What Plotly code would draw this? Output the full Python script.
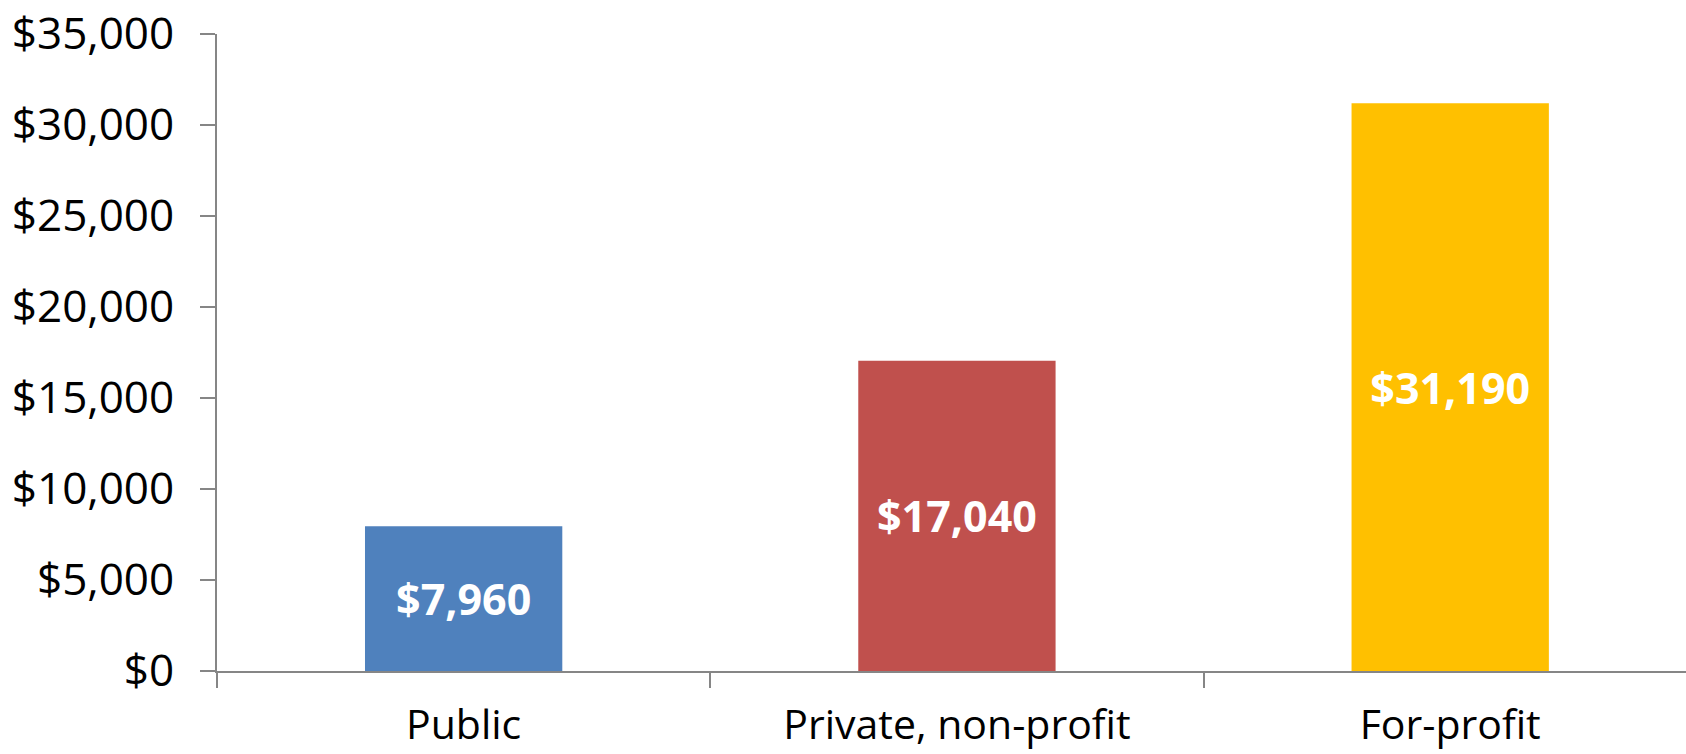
import plotly.graph_objects as go

categories = ["Public", "Private, non-profit", "For-profit"]
values = [7960, 17040, 31190]
labels = ["$7,960", "$17,040", "$31,190"]
colors = ["#4F81BD", "#C0504D", "#FFC000"]
y_ticks = [0, 5000, 10000, 15000, 20000, 25000, 30000, 35000]
y_tick_text = ["$" + f"{v:,}" for v in y_ticks]

FONT = "Open Sans"

fig = go.Figure(
    go.Bar(
        x=categories,
        y=values,
        text=labels,
        textposition="inside",
        insidetextanchor="middle",
        constraintext="none",
        textfont=dict(family=FONT, size=43, color="white", weight="bold"),
        marker=dict(color=colors, line=dict(width=0)),
        width=0.4,
        hoverinfo="skip",
    )
)

fig.update_layout(
    width=1686,
    height=754,
    margin=dict(l=217, r=0, t=34, b=83),
    paper_bgcolor="white",
    plot_bgcolor="white",
    showlegend=False,
    font=dict(family=FONT, size=42, color="black"),
)

fig.update_xaxes(
    range=[-0.5, 2.478],
    automargin=False,
    showline=True,
    linecolor="#868686",
    linewidth=2,
    ticks="outside",
    tickson="boundaries",
    ticklen=15,
    tickwidth=2,
    tickcolor="#868686",
    showgrid=False,
    zeroline=False,
    ticklabelstandoff=17,
    tickfont=dict(family=FONT, size=41, color="black"),
)

fig.update_yaxes(
    range=[0, 35000],
    automargin=False,
    tickvals=y_ticks,
    ticktext=y_tick_text,
    showline=True,
    linecolor="#868686",
    linewidth=2,
    ticks="outside",
    ticklen=15,
    tickwidth=2,
    tickcolor="#868686",
    showgrid=False,
    zeroline=False,
    ticklabelstandoff=17,
    tickfont=dict(family=FONT, size=44, color="black"),
)

fig.write_html(
    "out.html",
    config={"displayModeBar": False},
    post_script="document.body.style.margin='0';document.body.style.overflow='hidden';",
)
